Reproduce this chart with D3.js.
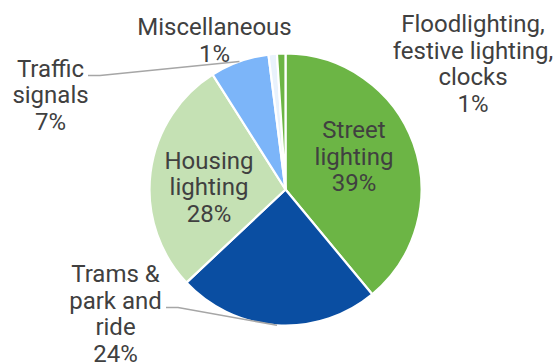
<!DOCTYPE html>
<html>
<head>
<meta charset="utf-8">
<script src="https://cdn.jsdelivr.net/npm/d3@7"></script>
<style>
  html, body { margin: 0; padding: 0; background: #fff; }
  svg { display: block; }
  text { font-family: Roboto, "Noto Sans", sans-serif; fill: #404040; }
</style>
</head>
<body>
<svg id="chart" width="553" height="363"></svg>
<script>
// Electricity use by category (share of total, %)
const categories = [
  "Street lighting",
  "Trams & park and ride",
  "Housing lighting",
  "Traffic signals",
  "Miscellaneous",
  "Floodlighting, festive lighting, clocks"
];
const shares = [39, 24, 28, 7, 1, 1];
const labelLines = [
  ["Street", "lighting"],
  ["Trams &", "park and", "ride"],
  ["Housing", "lighting"],
  ["Traffic", "signals"],
  ["Miscellaneous"],
  ["Floodlighting,", "festive lighting,", "clocks"]
];

const colors = ["#6cb545", "#0a4ea2", "#c5e1b4", "#7cb5f9", "#e9f2fc", "#6cb545"];

// label placement: centre x and first baseline, plus optional leader elbow
const labelLayout = [
  { x: 354, y: 138 },
  { x: 115.5, y: 282, leader: [[166, 307.5], [178, 307.5]] },
  { x: 209, y: 168.5 },
  { x: 50.5, y: 76.5, leader: [[88, 75.5], [100, 75.5]] },
  { x: 214.5, y: 35 },
  { x: 473, y: 32 }
];
const lineHeight = 26.5;

const svg = d3.select("#chart");
const cx = 285.5, cy = 189.5, radius = 136;

const data = categories.map((c, i) => ({ name: c, value: shares[i], color: colors[i], lines: labelLines[i], layout: labelLayout[i] }));

const pie = d3.pie().sort(null).value(d => d.value).startAngle(0).endAngle(2 * Math.PI);
const arcs = pie(data);
const arc = d3.arc().innerRadius(0).outerRadius(radius);

const g = svg.append("g").attr("transform", `translate(${cx},${cy})`);

g.selectAll("path.slice")
  .data(arcs)
  .join("path")
  .attr("class", "slice")
  .attr("d", arc)
  .attr("fill", d => d.data.color)
  .attr("stroke", "#ffffff")
  .attr("stroke-width", 2.2)
  .attr("stroke-linejoin", "round");

// leader lines run from the label elbow to the middle of the slice's rim
arcs.filter(d => d.data.layout.leader).forEach(d => {
  const mid = (d.startAngle + d.endAngle) / 2;
  const rim = [cx + radius * Math.sin(mid), cy - radius * Math.cos(mid)];
  const pts = d.data.layout.leader.concat([rim]);
  svg.append("path")
    .attr("d", d3.line()(pts))
    .attr("fill", "none")
    .attr("stroke", "#a6a6a6")
    .attr("stroke-width", 1.5);
});

// labels: category name lines followed by the percentage
arcs.forEach(d => {
  const L = d.data.layout;
  const lines = d.data.lines.concat([d.data.value + "%"]);
  const t = svg.append("text")
    .attr("text-anchor", "middle")
    .attr("font-size", 24);
  lines.forEach((ln, i) => {
    t.append("tspan")
      .attr("x", L.x)
      .attr("y", L.y + i * lineHeight)
      .text(ln);
  });
});
</script>
</body>
</html>
